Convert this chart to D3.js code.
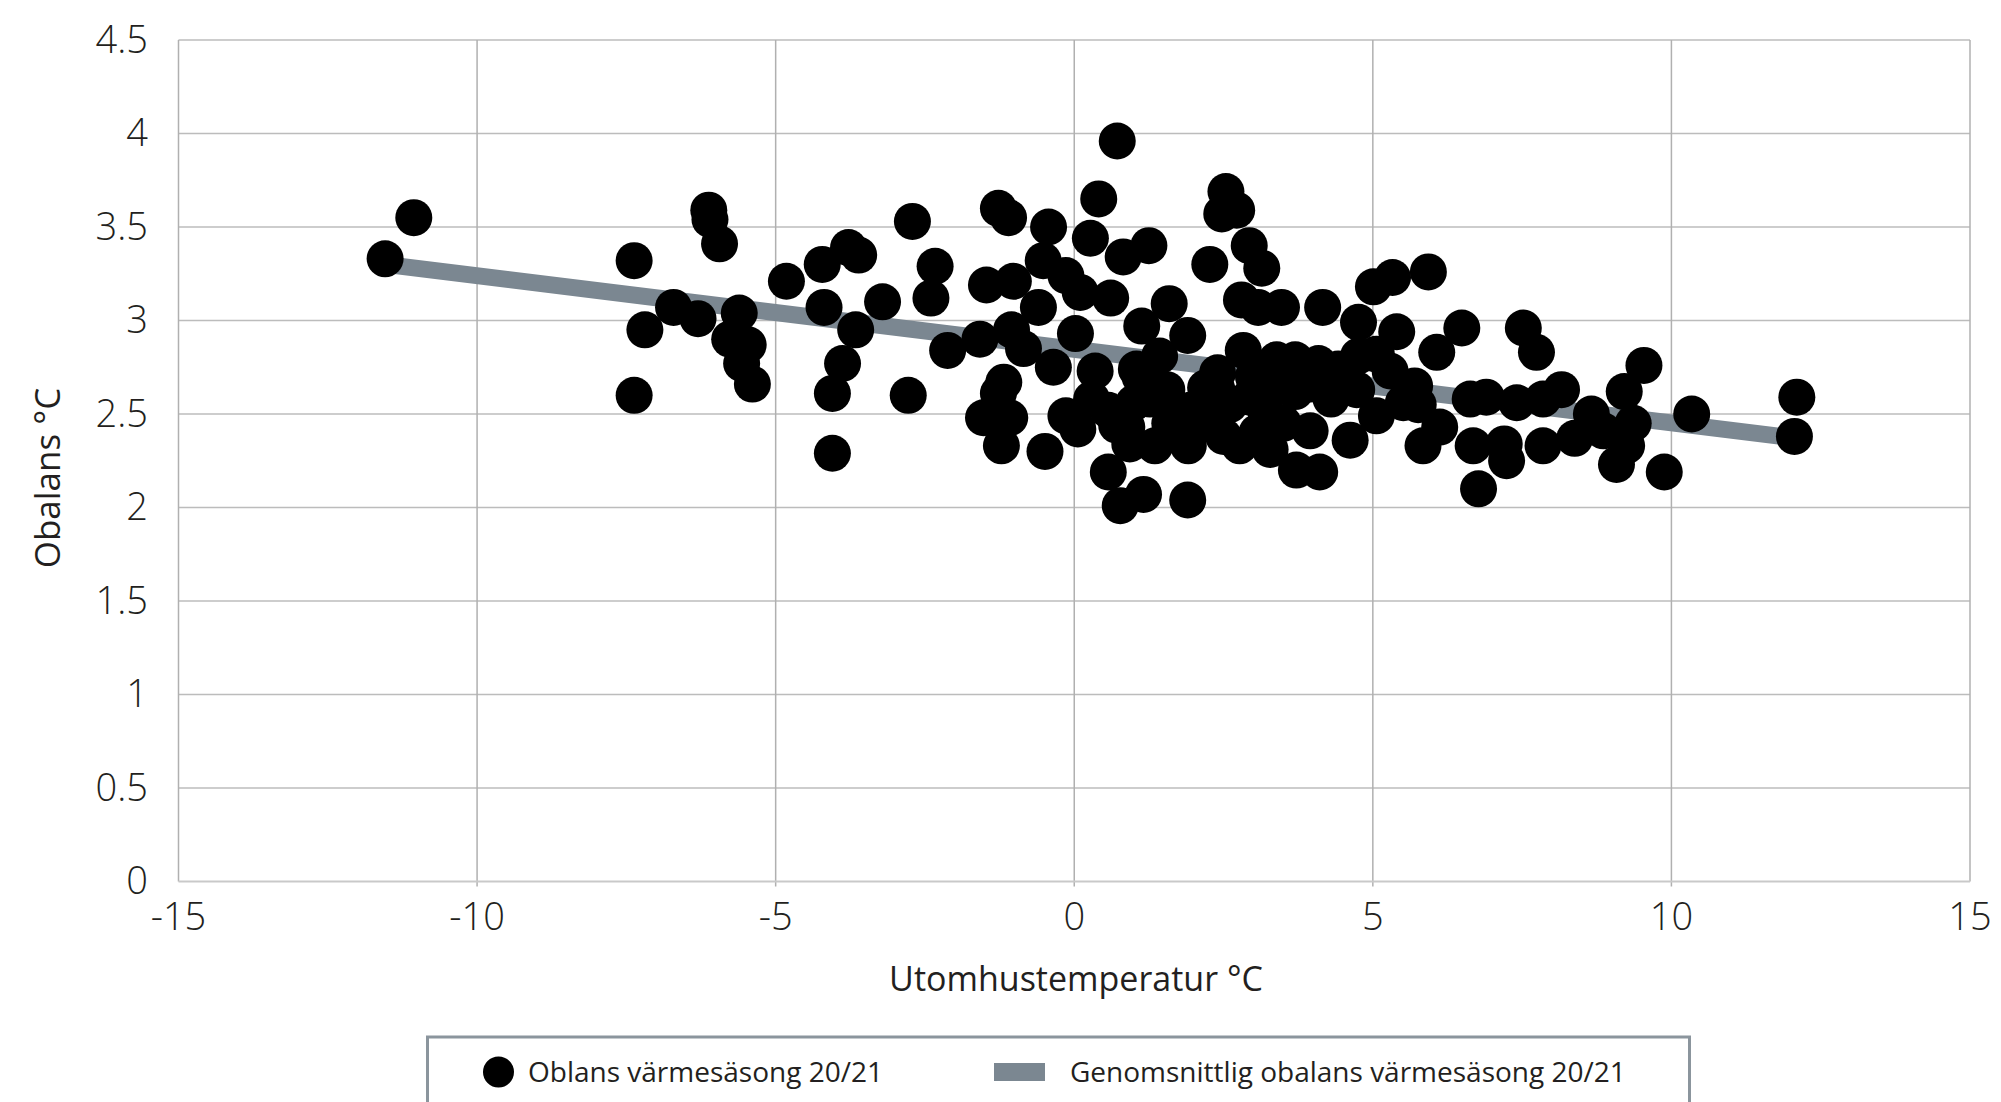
<!DOCTYPE html>
<html>
<head>
<meta charset="utf-8">
<script src="https://cdn.jsdelivr.net/npm/d3@7"></script>
<style>
  body { margin: 0; background: #fff; }
  text { font-family: "Open Sans", "Noto Sans", sans-serif; fill: #231f20; }
</style>
</head>
<body>
<svg width="2001" height="1102"></svg>
<script>
// utomhustemperatur (x) och obalans (y), läst ur bilden
var tempC = [
    -11.54, -11.06, -7.37, -7.19, -7.37, -6.71, -6.30, -6.12, -6.10, -5.94,
    -5.61, -5.77, -5.46, -5.57, -5.39, -4.82, -4.22, -3.78, -3.61, -4.19,
    -3.21, -3.66, -3.88, -4.05, -4.05, -2.71, -2.33, -2.40, -2.78, -2.12,
    -1.27, -1.10, -0.43, 0.27, 0.82, 1.25, 0.72, 0.41, -1.47, -1.02,
    -0.52, -0.14, -0.60, 0.10, 0.61, 1.59, -1.58, -1.05, -0.85, -0.35,
    0.02, 0.35, 1.13, 1.90, -1.18, -1.27, -1.52, -1.08, -1.22, -0.49,
    -0.14, 0.06, 0.29, 0.57, 0.77, 1.16, 0.71, 0.93, 1.35, 1.04,
    1.55, 1.90, 1.10, 1.43, 0.57, 0.88, 1.27, 1.91, 1.94, 2.54,
    2.47, 2.72, 2.93, 3.14, 2.27, 2.80, 3.08, 3.47, 4.16, 4.76,
    5.01, 5.33, 5.93, 5.40, 6.49, 7.52, 7.74, 6.07, 2.83, 3.39,
    4.09, 4.42, 4.76, 5.06, 5.29, 5.70, 5.76, 6.12, 6.63, 6.90,
    7.41, 7.85, 8.16, 5.84, 6.68, 7.24, 7.20, 7.85, 6.77, 2.20,
    2.94, 3.44, 3.95, 4.39, 4.73, 5.06, 4.62, 3.95, 3.72, 4.11,
    3.28, 2.77, 2.50, 3.06, 2.39, 3.50, 3.70, 5.51, 2.40, 9.54,
    9.21, 8.66, 10.34, 12.10, 12.06, 9.88, 9.08, 8.38, 9.25, 9.36,
    8.86, 3.00, 3.70, 4.30, 2.60, 3.20, 1.60, 2.20, 1.00, 3.50
];
var obalans = [
    3.33, 3.55, 3.32, 2.95, 2.60, 3.07, 3.01, 3.59, 3.54, 3.41,
    3.04, 2.90, 2.87, 2.77, 2.66, 3.21, 3.30, 3.39, 3.35, 3.07,
    3.10, 2.95, 2.77, 2.61, 2.29, 3.53, 3.29, 3.12, 2.60, 2.84,
    3.60, 3.55, 3.50, 3.44, 3.34, 3.40, 3.96, 3.65, 3.19, 3.21,
    3.32, 3.24, 3.07, 3.15, 3.12, 3.09, 2.90, 2.95, 2.85, 2.75,
    2.93, 2.73, 2.97, 2.92, 2.67, 2.61, 2.48, 2.48, 2.33, 2.30,
    2.49, 2.42, 2.58, 2.19, 2.01, 2.07, 2.44, 2.34, 2.33, 2.74,
    2.63, 2.04, 2.70, 2.81, 2.52, 2.43, 2.58, 2.33, 2.52, 3.69,
    3.57, 3.59, 3.40, 3.28, 3.30, 3.11, 3.07, 3.07, 3.07, 2.99,
    3.18, 3.23, 3.26, 2.94, 2.96, 2.96, 2.83, 2.83, 2.84, 2.79,
    2.77, 2.74, 2.81, 2.82, 2.73, 2.65, 2.55, 2.43, 2.58, 2.59,
    2.56, 2.58, 2.63, 2.33, 2.33, 2.25, 2.34, 2.33, 2.10, 2.64,
    2.59, 2.70, 2.66, 2.66, 2.63, 2.49, 2.36, 2.41, 2.20, 2.19,
    2.31, 2.33, 2.38, 2.40, 2.63, 2.45, 2.79, 2.56, 2.72, 2.76,
    2.62, 2.50, 2.50, 2.59, 2.38, 2.19, 2.23, 2.37, 2.33, 2.45,
    2.41, 2.70, 2.62, 2.58, 2.55, 2.52, 2.45, 2.45, 2.56, 2.66
];

// genomsnittlig obalans (linjen)
var trendX = [-11.54, 12.1];
var trendY = [3.30, 2.37];

var xTicks = [-15, -10, -5, 0, 5, 10, 15];
var yTicks = [0, 0.5, 1, 1.5, 2, 2.5, 3, 3.5, 4, 4.5];
var xTitle = "Utomhustemperatur °C";
var yTitle = "Obalans °C";
var legendLabels = ["Oblans värmesäsong 20/21", "Genomsnittlig obalans värmesäsong 20/21"];

var svg = d3.select("svg");
var lineColor = "#7b8791";

var x = d3.scaleLinear().domain([-15, 15]).range([178.5, 1970]);
var y = d3.scaleLinear().domain([0, 4.5]).range([881.5, 40]);

// gridlines
var grid = svg.append("g");
grid.selectAll("line.h")
    .data(yTicks.filter(function(d) { return d > 0; }))
    .enter()
    .append("line")
    .attr("x1", x(-15))
    .attr("x2", x(15))
    .attr("y1", function(d) { return y(d); })
    .attr("y2", function(d) { return y(d); })
    .style("stroke", "#bcbcbc")
    .style("stroke-width", 1.5);

grid.selectAll("line.v")
    .data(xTicks)
    .enter()
    .append("line")
    .attr("x1", function(d) { return x(d); })
    .attr("x2", function(d) { return x(d); })
    .attr("y1", y(4.5))
    .attr("y2", function(d) { return (d === -15 || d === 15) ? y(0) : y(0) + 5; })
    .style("stroke", "#b0b0b0")
    .style("stroke-width", 1.5);

// x-axis baseline
grid.append("line")
    .attr("x1", x(-15))
    .attr("x2", x(15))
    .attr("y1", y(0))
    .attr("y2", y(0))
    .style("stroke", "#c9c9c9")
    .style("stroke-width", 2);

// tick labels
svg.append("g")
    .selectAll("text")
    .data(yTicks)
    .enter()
    .append("text")
    .attr("x", 148)
    .attr("y", function(d) { return y(d); })
    .attr("dy", "0.33em")
    .attr("text-anchor", "end")
    .style("font-size", "38px")
    .style("font-weight", 300)
    .text(function(d) { return d; });

svg.append("g")
    .selectAll("text")
    .data(xTicks)
    .enter()
    .append("text")
    .attr("x", function(d) { return x(d); })
    .attr("y", 930)
    .attr("text-anchor", "middle")
    .style("font-size", "38px")
    .style("font-weight", 300)
    .text(function(d) { return d; });

// axis titles
svg.append("text")
    .attr("x", 1076)
    .attr("y", 991)
    .attr("text-anchor", "middle")
    .style("font-size", "34px")
    .text(xTitle);

svg.append("text")
    .attr("transform", "translate(60,478) rotate(-90)")
    .attr("text-anchor", "middle")
    .style("font-size", "35px")
    .text(yTitle);

// trend line
svg.append("line")
    .attr("x1", x(trendX[0]))
    .attr("y1", y(trendY[0]))
    .attr("x2", x(trendX[1]))
    .attr("y2", y(trendY[1]))
    .style("stroke", lineColor)
    .style("stroke-width", 17);

// points
svg.append("g")
    .selectAll("circle")
    .data(tempC)
    .enter()
    .append("circle")
    .attr("cx", function(d) { return x(d); })
    .attr("cy", function(d, i) { return y(obalans[i]); })
    .attr("r", 18.5)
    .attr("fill", "#000");

// legend
var legend = svg.append("g");
legend.append("rect")
    .attr("x", 427.5)
    .attr("y", 1037)
    .attr("width", 1262)
    .attr("height", 100)
    .attr("fill", "#fff")
    .attr("stroke", "#8b959d")
    .attr("stroke-width", 3);

legend.append("circle")
    .attr("cx", 498.5)
    .attr("cy", 1072)
    .attr("r", 15.5)
    .attr("fill", "#000");

legend.append("text")
    .attr("x", 528)
    .attr("y", 1072)
    .attr("dy", "0.35em")
    .style("font-size", "28px")
    .text(legendLabels[0]);

legend.append("rect")
    .attr("x", 994)
    .attr("y", 1063)
    .attr("width", 51)
    .attr("height", 18)
    .attr("fill", lineColor);

legend.append("text")
    .attr("x", 1070)
    .attr("y", 1072)
    .attr("dy", "0.35em")
    .style("font-size", "28px")
    .text(legendLabels[1]);
</script>
</body>
</html>
